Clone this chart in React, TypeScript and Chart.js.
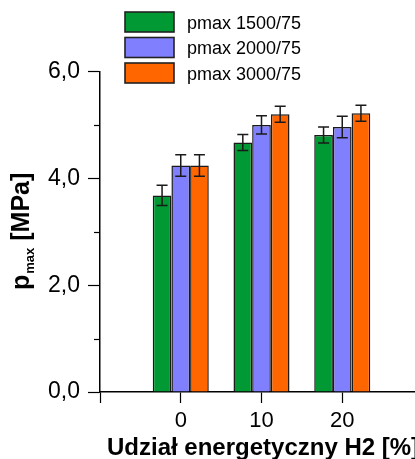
import React, { useEffect, useRef } from "react";
import { Chart, registerables } from "chart.js";

Chart.register(...registerables);

const categories = [0, 10, 20];
const seriesLabels = ["pmax 1500/75", "pmax 2000/75", "pmax 3000/75"];
const pmax1500 = [3.68, 4.67, 4.81];
const err1500 = [0.19, 0.15, 0.15];
const pmax2000 = [4.24, 5.0, 4.96];
const err2000 = [0.2, 0.17, 0.2];
const pmax3000 = [4.24, 5.2, 5.22];
const err3000 = [0.2, 0.15, 0.15];
const seriesColors = ["#009933", "#8080FF", "#FF6600"];
const xTickLabels = ["0", "10", "20"];
const yTickValues = [0, 2, 4, 6];
const xTitle = "Udział energetyczny H2 [%]";
const yTitleMain = "p";
const yTitleSub = "max";
const yTitleUnit = " [MPa]";

const FONT = "'Liberation Sans', Arial, sans-serif";

const errorBarPlugin = {
  id: "errorBars",
  afterDatasetsDraw(chart: any) {
    const ctx = chart.ctx;
    const yScale = chart.scales.y;
    chart.data.datasets.forEach((ds: any, di: number) => {
      const meta = chart.getDatasetMeta(di);
      meta.data.forEach((el: any, i: number) => {
        const v = ds.data[i].y;
        const e = ds.errors[i];
        const yt = yScale.getPixelForValue(v + e);
        const yb = yScale.getPixelForValue(v - e);
        const x = el.x;
        ctx.save();
        ctx.strokeStyle = "#1a1a1a";
        ctx.lineWidth = 1.5;
        ctx.beginPath();
        ctx.moveTo(x, yt);
        ctx.lineTo(x, yb);
        ctx.moveTo(x - 5.5, yt);
        ctx.lineTo(x + 5.5, yt);
        ctx.moveTo(x - 5.5, yb);
        ctx.lineTo(x + 5.5, yb);
        ctx.stroke();
        ctx.restore();
      });
    });
  },
};

const decorPlugin = {
  id: "decor",
  afterDraw(chart: any) {
    const ctx = chart.ctx;
    const area = chart.chartArea;
    const yScale = chart.scales.y;
    ctx.save();
    // minor y ticks
    ctx.strokeStyle = "#000";
    ctx.lineWidth = 1.2;
    for (let v = 1; v <= 5; v += 2) {
      const py = Math.round(yScale.getPixelForValue(v)) + 0.5;
      ctx.beginPath();
      ctx.moveTo(area.left - 6, py);
      ctx.lineTo(area.left, py);
      ctx.stroke();
    }
    // legend
    chart.data.datasets.forEach((ds: any, i: number) => {
      const bx = 125;
      const by = 12 + i * 25.5;
      ctx.fillStyle = ds.backgroundColor;
      ctx.fillRect(bx, by, 49, 20);
      ctx.strokeStyle = "#222";
      ctx.lineWidth = 1.6;
      ctx.strokeRect(bx, by, 49, 20);
      ctx.fillStyle = "#000";
      ctx.font = `18px ${FONT}`;
      ctx.textAlign = "left";
      ctx.textBaseline = "alphabetic";
      ctx.fillText(ds.label, 187, by + 16.5);
    });
    // x title
    ctx.fillStyle = "#000";
    ctx.font = `bold 24px ${FONT}`;
    ctx.textAlign = "left";
    ctx.textBaseline = "alphabetic";
    ctx.fillText(xTitle, area.left + 7, 455);
    // y title with subscript
    ctx.translate(28.5, 290);
    ctx.rotate(-Math.PI / 2);
    ctx.textAlign = "left";
    ctx.font = `bold 25px ${FONT}`;
    ctx.fillText(yTitleMain, 0, 0);
    let off = ctx.measureText(yTitleMain).width + 1;
    ctx.font = `bold 13px ${FONT}`;
    ctx.fillText(yTitleSub, off, 5);
    off += ctx.measureText(yTitleSub).width;
    ctx.font = `bold 25px ${FONT}`;
    ctx.fillText(yTitleUnit, off, 0);
    ctx.restore();
  },
};

export default function App() {
  const ref = useRef<HTMLCanvasElement>(null);
  useEffect(() => {
    if (!ref.current) return;
    const values = [pmax1500, pmax2000, pmax3000];
    const errors = [err1500, err2000, err3000];
    const chart = new Chart(ref.current, {
      type: "bar",
      data: {
        datasets: values.map((vals, si) => ({
          label: seriesLabels[si],
          data: categories.map((c, i) => ({ x: c, y: vals[i] })),
          errors: errors[si],
          backgroundColor: seriesColors[si],
          borderColor: "#1a1a1a",
          borderWidth: 1.5,
          barPercentage: 1,
          categoryPercentage: 0.694,
        })) as any,
      },
      options: {
        animation: false,
        responsive: false,
        maintainAspectRatio: false,
        layout: { padding: { left: 0, top: 71.5, right: 7, bottom: 0 } },
        plugins: { legend: { display: false }, tooltip: { enabled: false } },
        scales: {
          x: {
            type: "linear",
            min: -10,
            max: 30,
            offset: false,
            afterFit: (s: any) => {
              s.height = 67;
            },
            ticks: {
              stepSize: 10,
              color: "#000",
              font: { family: FONT, size: 22 },
              padding: 5,
              maxRotation: 0,
              autoSkip: false,
              callback: (v: any) => {
                const idx = categories.indexOf(Number(v));
                return idx >= 0 ? xTickLabels[idx] : "";
              },
            },
            grid: {
              drawOnChartArea: false,
              offset: false,
              tickLength: 11,
              tickColor: "#000",
              tickWidth: 1.2,
            },
            border: { color: "#000", width: 1.5 },
          },
          y: {
            min: 0,
            max: 6,
            afterFit: (s: any) => {
              s.width = 100;
            },
            ticks: {
              stepSize: 1,
              color: "#000",
              font: { family: FONT, size: 23 },
              padding: 8,
              autoSkip: false,
              callback: (v: any) =>
                yTickValues.includes(Number(v)) ? Number(v).toFixed(1).replace(".", ",") : "",
            },
            grid: {
              drawOnChartArea: false,
              tickLength: 12,
              tickWidth: 1.2,
              tickColor: (c: any) =>
                c.tick && yTickValues.includes(c.tick.value) ? "#000" : "rgba(0,0,0,0)",
            },
            border: { color: "#000", width: 1.5 },
          },
        },
      },
      plugins: [errorBarPlugin, decorPlugin],
    });
    return () => chart.destroy();
  }, []);
  return (
    <div
      style={{
        position: "absolute",
        left: 0,
        top: 0,
        width: 415,
        height: 459,
        overflow: "hidden",
        background: "#fff",
      }}
    >
      <canvas ref={ref} width={430} height={459} style={{ display: "block" }} />
    </div>
  );
}
